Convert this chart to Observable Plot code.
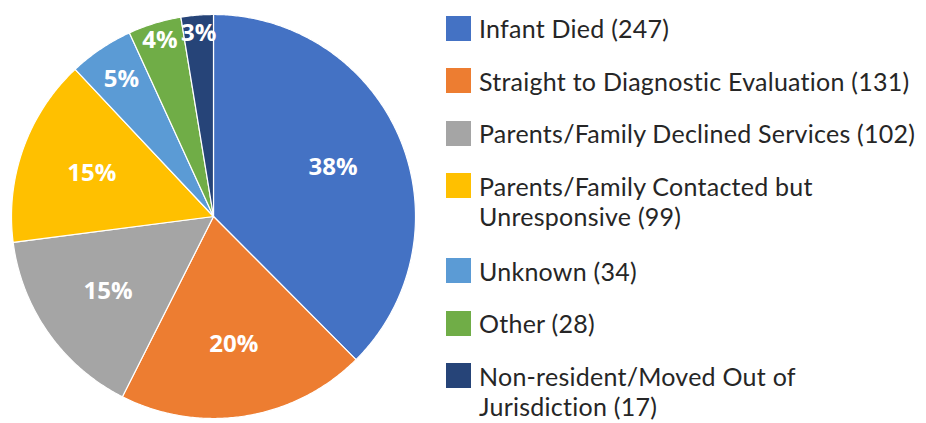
<!DOCTYPE html>
<html>
<head>
<meta charset="utf-8">
<script src="https://cdn.jsdelivr.net/npm/d3@7"></script>
<script src="https://cdn.jsdelivr.net/npm/@observablehq/plot@0.6"></script>
<style>
  html, body { margin: 0; padding: 0; background: #fff; }
  #wrap { display: flex; flex-direction: row; align-items: flex-start; width: 926px; height: 423px; overflow: hidden; }
  #legend { margin-left: 16px; padding-top: 13px; font-family: "Lato", sans-serif; font-size: 25px; color: #262626; letter-spacing: 0.25px; }
  .row { display: flex; align-items: flex-start; margin-bottom: 22.5px; }
  .row.wrapped { margin-bottom: 25px; }
  .sw { width: 25px; height: 25px; flex: none; margin-top: 2.5px; margin-right: 8px; }
  .lab div { line-height: 30px; height: 30px; white-space: nowrap; }
</style>
</head>
<body>
<div id="wrap"><div id="chart"></div><div id="legend"></div></div>
<script>
const categories = [
  "Infant Died",
  "Straight to Diagnostic Evaluation",
  "Parents/Family Declined Services",
  "Parents/Family Contacted but\nUnresponsive",
  "Unknown",
  "Other",
  "Non-resident/Moved Out of\nJurisdiction"
];
const counts = [247, 131, 102, 99, 34, 28, 17];
const pctLabels = ["38%", "20%", "15%", "15%", "5%", "4%", "3%"];
const colors = ["#4472C4", "#ED7D31", "#A5A5A5", "#FFC000", "#5B9BD5", "#70AD47", "#264478"];

const arcs = d3.pie().sort(null).value(d => d)(counts);

// slice outlines as closed polygons in a unit coordinate system
const slicePts = [];
arcs.forEach((a, i) => {
  const cat = categories[i];
  slicePts.push({cat, x: 0, y: 0});
  const n = Math.max(2, Math.ceil((a.endAngle - a.startAngle) / (Math.PI / 360)));
  for (let k = 0; k <= n; k++) {
    const t = a.startAngle + (a.endAngle - a.startAngle) * k / n;
    slicePts.push({cat, x: Math.sin(t), y: Math.cos(t)});
  }
});

// labels pushed outward in narrow slices so they fit
const labelPts = arcs.map((a, i) => {
  const theta = a.endAngle - a.startAngle;
  const mid = (a.startAngle + a.endAngle) / 2;
  const rho = Math.max(0.64, Math.min(0.91, 0.265 / theta));
  return {text: pctLabels[i], x: rho * Math.sin(mid), y: rho * Math.cos(mid)};
});

const chart = Plot.plot({
  width: 430,
  height: 423,
  marginLeft: 11,
  marginRight: 15,
  marginTop: 14,
  marginBottom: 5,
  x: {domain: [-1, 1], axis: null},
  y: {domain: [-1, 1], axis: null},
  color: {domain: categories, range: colors},
  style: {fontFamily: "Open Sans, sans-serif", background: "white"},
  marks: [
    Plot.line(slicePts, {x: "x", y: "y", z: "cat", fill: "cat", stroke: "white", strokeWidth: 1.2, curve: "linear-closed"}),
    Plot.text(labelPts, {x: "x", y: "y", text: "text", fill: "white", fontWeight: "bold", fontSize: 24})
  ]
});
document.getElementById("chart").appendChild(chart);

const legend = document.getElementById("legend");
categories.forEach((c, i) => {
  const lines = `${c} (${counts[i]})`.split("\n");
  const row = document.createElement("div");
  row.className = "row" + (lines.length > 1 ? " wrapped" : "");
  const sw = document.createElement("div");
  sw.className = "sw";
  sw.style.background = colors[i];
  const lab = document.createElement("div");
  lab.className = "lab";
  lines.forEach(t => {
    const ln = document.createElement("div");
    ln.textContent = t;
    lab.appendChild(ln);
  });
  row.appendChild(sw);
  row.appendChild(lab);
  legend.appendChild(row);
});
</script>
</body>
</html>
